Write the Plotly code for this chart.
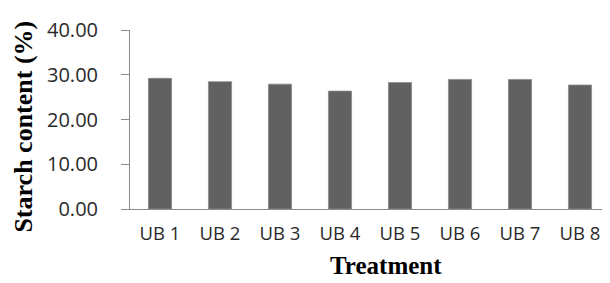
import plotly.graph_objects as go

categories = ["UB 1", "UB 2", "UB 3", "UB 4", "UB 5", "UB 6", "UB 7", "UB 8"]
starch = [29.2, 28.45, 27.9, 26.35, 28.25, 28.95, 28.95, 27.7]
y_ticks = [0, 10, 20, 30, 40]
y_tick_text = ["0.00", "10.00", "20.00", "30.00", "40.00"]

OFF = 8  # page body margin offset
W, H = 610 - OFF, 283 - OFF
L, R, T = 130 - OFF, 8, 20 - OFF
B = H - (209 - OFF)
pw = W - L - R
ph = H - T - B
cat_px = 60.0
x_max = -0.5 + pw / cat_px

fig = go.Figure()
fig.add_trace(go.Bar(
    x=categories, y=starch, width=0.385,
    marker=dict(color="#616161", line=dict(color="#8a8a8a", width=0.8)),
))

fig.update_layout(
    width=W, height=H,
    margin=dict(l=L, r=R, t=T, b=B, pad=0),
    plot_bgcolor="white", paper_bgcolor="white",
    showlegend=False,
    font=dict(family="Open Sans", size=19, color="#2a2a2a"),
)
fig.update_xaxes(
    range=[-0.5, x_max], showline=True, linecolor="#8c8c8c", linewidth=1,
    ticks="", showgrid=False, zeroline=False,
    tickfont=dict(family="Open Sans", size=18.5, color="#2a2a2a"),
    ticklabelstandoff=8, ticklabeloverflow="allow",
)
fig.update_yaxes(
    range=[0, 40], tickvals=y_ticks, ticktext=y_tick_text,
    showline=True, linecolor="#8c8c8c", linewidth=1,
    ticks="outside", ticklen=8, tickcolor="#8c8c8c",
    showgrid=False, zeroline=False,
    tickfont=dict(family="Open Sans", size=20, color="#2a2a2a"),
    ticklabelstandoff=19, ticklabeloverflow="allow",
)

def px(xp):
    return (xp - OFF - L) / pw
def py(yp):
    return (H - B - (yp - OFF)) / ph

fig.add_annotation(
    text="<b>Starch content (%)</b>", textangle=-90,
    xref="paper", yref="paper",
    x=px(24), y=py(122),
    xanchor="center", yanchor="middle", showarrow=False,
    font=dict(family="Liberation Serif", size=26, color="#000000"),
)
fig.add_annotation(
    text="<b>Treatment</b>",
    xref="paper", yref="paper",
    x=px(386), y=py(269),
    xanchor="center", yanchor="middle", showarrow=False,
    font=dict(family="Liberation Serif", size=25, color="#000000"),
)

fig.write_html("out.html")
